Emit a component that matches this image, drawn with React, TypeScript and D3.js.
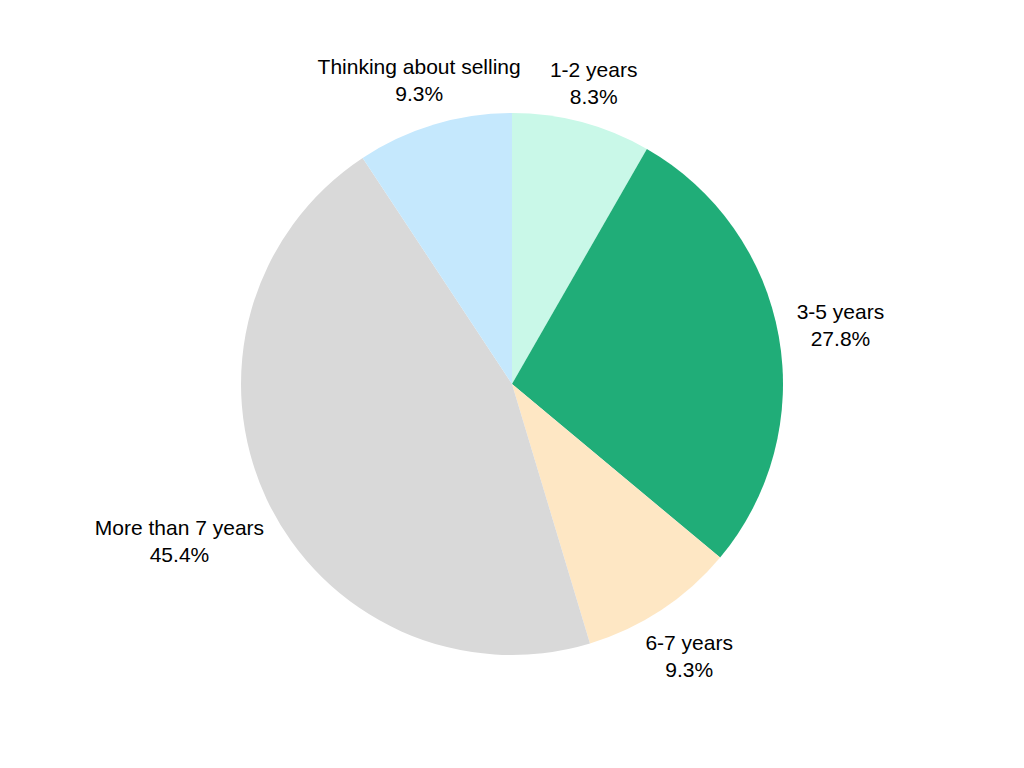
import React, { useEffect, useMemo } from "react";
import * as d3 from "d3";

const categories = ["1-2 years", "3-5 years", "6-7 years", "More than 7 years", "Thinking about selling"];
const values = [8.3, 27.8, 9.3, 45.4, 9.3];
const percentLabels = ["8.3%", "27.8%", "9.3%", "45.4%", "9.3%"];
const colors = ["#c9f8e8", "#20ad78", "#fee7c4", "#d9d9d9", "#c5e8fd"];

const W = 1024;
const H = 768;
const CX = 512;
const CY = 384;
const R = 271;
const LABEL_R = 287;
const FONT_SIZE = 21;
const LINE_GAP = 27;
const FONT = "'Liberation Sans', Arial, Helvetica, sans-serif";

function measure(text: string): number {
  const c = document.createElement("canvas");
  const ctx = c.getContext("2d");
  if (!ctx) return text.length * FONT_SIZE * 0.5;
  ctx.font = `${FONT_SIZE}px ${FONT}`;
  return ctx.measureText(text).width;
}

export default function App() {
  useEffect(() => {
    document.body.style.margin = "0";
  }, []);

  const arcs = useMemo(() => {
    const pie = d3.pie<number>().sort(null).value((d) => d);
    return pie(values);
  }, []);

  const arcGen = d3.arc<d3.PieArcDatum<number>>().innerRadius(0).outerRadius(R);

  return (
    <svg width={W} height={H} style={{ display: "block", background: "#ffffff" }}>
      <g transform={`translate(${CX},${CY})`}>
        {arcs.map((a, i) => (
          <path key={i} d={arcGen(a) || ""} fill={colors[i]} />
        ))}
        {arcs.map((a, i) => {
          const mid = (a.startAngle + a.endAngle) / 2;
          const s = Math.sin(mid);
          const c = Math.cos(mid);
          const w = Math.max(measure(categories[i]), measure(percentLabels[i]));
          const d = LABEL_R + s * s * (w / 2) * 1.08 + c * c * 29;
          const x = d * s;
          const b1 = -d * c - 6 * s * s;
          return (
            <text
              key={`l${i}`}
              textAnchor="middle"
              fontFamily={FONT}
              fontSize={FONT_SIZE}
              fill="#000000"
            >
              <tspan x={x} y={b1}>{categories[i]}</tspan>
              <tspan x={x} y={b1 + LINE_GAP}>{percentLabels[i]}</tspan>
            </text>
          );
        })}
      </g>
    </svg>
  );
}
